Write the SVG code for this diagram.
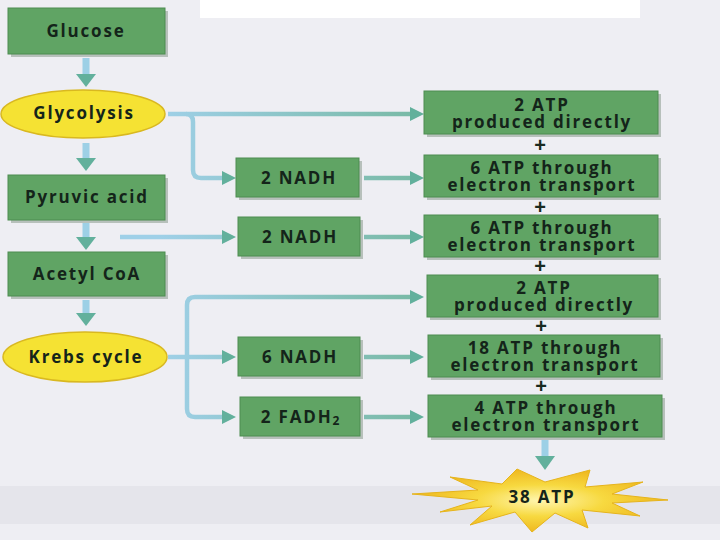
<svg xmlns="http://www.w3.org/2000/svg" width="720" height="540" viewBox="0 0 720 540">
<defs>
<style>
.box{fill:#60a464;stroke:#4d8c51;stroke-width:1}
.sh{fill:#8a9a8c;opacity:0.55}
.ell{fill:#f5e233;stroke:#d9b820;stroke-width:1.5}
.t{font-family:"Open Sans",Lato,"Liberation Sans",sans-serif;font-weight:bold;font-size:17px;fill:#14241a;text-anchor:middle;letter-spacing:1.8px}
.plus{font-family:"Liberation Sans",sans-serif;font-weight:bold;font-size:20px;fill:#1a2a20;text-anchor:middle}
.ln{fill:none;stroke:url(#g);stroke-width:4.5;stroke-linecap:butt}
.lv{fill:none;stroke:#9dd0e6;stroke-width:7}
.hd{fill:#62b09c}
</style>
<linearGradient id="g" gradientUnits="userSpaceOnUse" x1="160" y1="0" x2="420" y2="0">
<stop offset="0" stop-color="#9fd0e8"/><stop offset="1" stop-color="#78b9a4"/>
</linearGradient>
<radialGradient id="star" cx="0.5" cy="0.5" r="0.5">
<stop offset="0" stop-color="#fff6b0"/><stop offset="0.5" stop-color="#f7d940"/><stop offset="1" stop-color="#efb820"/>
</radialGradient>
</defs>
<rect width="720" height="540" fill="#eeeef3"/>
<rect x="200" y="0" width="440" height="18" fill="#ffffff"/>
<rect x="0" y="486" width="720" height="38" fill="#e5e5eb"/>

<g id="connectors">
<line class="lv" x1="86" y1="58" x2="86" y2="76"/><polygon class="hd" points="76,74 96,74 86,87"/>
<line class="lv" x1="86" y1="143" x2="86" y2="160"/><polygon class="hd" points="76,158 96,158 86,171"/>
<line class="lv" x1="86" y1="223" x2="86" y2="239"/><polygon class="hd" points="76,237 96,237 86,250"/>
<line class="lv" x1="86" y1="300" x2="86" y2="315"/><polygon class="hd" points="76,313 96,313 86,326"/>
<line class="lv" x1="545" y1="440" x2="545" y2="458"/><polygon class="hd" points="535,456 555,456 545,470"/>
<path class="ln" d="M168,114 H412"/><polygon class="hd" points="410,107 424,114 410,121"/>
<path class="ln" d="M186,114 Q193,114 193,122 V170 Q193,178 201,178 H224"/><polygon class="hd" points="222,171 236,178 222,185"/>
<path class="ln" d="M120,237 H224"/><polygon class="hd" points="222,230 236,237 222,244"/>
<path class="ln" d="M364,178 H412"/><polygon class="hd" points="410,171 424,178 410,185"/>
<path class="ln" d="M364,237 H412"/><polygon class="hd" points="410,230 424,237 410,244"/>
<path class="ln" d="M364,357 H412"/><polygon class="hd" points="410,350 424,357 410,364"/>
<path class="ln" d="M364,417 H412"/><polygon class="hd" points="410,410 424,417 410,424"/>
<path class="ln" d="M412,297 H195 Q187,297 187,305 V409 Q187,417 195,417 H224"/>
<polygon class="hd" points="410,290 424,297 410,304"/>
<polygon class="hd" points="222,410 236,417 222,424"/>
<path class="ln" d="M168,357 H224"/><polygon class="hd" points="222,350 236,357 222,364"/>
</g>

<g id="glucose"><rect class="sh" x="11" y="11" width="157" height="46"/><rect class="box" x="8" y="8" width="157" height="46"/><text class="t" x="86" y="37">Glucose</text></g>
<g id="glycolysis"><ellipse class="ell" cx="83" cy="114" rx="82" ry="24"/><text class="t" x="84" y="119">Glycolysis</text></g>
<g id="pyruvic"><rect class="sh" x="11" y="178" width="157" height="45"/><rect class="box" x="8" y="175" width="157" height="45"/><text class="t" x="87" y="203">Pyruvic acid</text></g>
<g id="acetyl"><rect class="sh" x="11" y="255" width="157" height="44"/><rect class="box" x="8" y="252" width="157" height="44"/><text class="t" x="87" y="280">Acetyl CoA</text></g>
<g id="krebs"><ellipse class="ell" cx="85" cy="357" rx="82" ry="25"/><text class="t" x="86" y="363">Krebs cycle</text></g>

<g id="nadh1"><rect class="sh" x="239" y="161" width="123" height="39"/><rect class="box" x="236" y="158" width="123" height="39"/><text class="t" x="299" y="184">2 NADH</text></g>
<g id="nadh2"><rect class="sh" x="241" y="220" width="122" height="39"/><rect class="box" x="238" y="217" width="122" height="39"/><text class="t" x="300" y="243">2 NADH</text></g>
<g id="nadh3"><rect class="sh" x="241" y="340" width="122" height="39"/><rect class="box" x="238" y="337" width="122" height="39"/><text class="t" x="300" y="363">6 NADH</text></g>
<g id="fadh"><rect class="sh" x="243" y="400" width="120" height="39"/><rect class="box" x="240" y="397" width="120" height="39"/><text class="t" x="301" y="423">2 FADH<tspan font-size="12" dy="2">2</tspan></text></g>

<g id="atp1"><rect class="sh" x="427" y="94" width="234" height="43"/><rect class="box" x="424" y="91" width="234" height="43"/><text class="t"><tspan x="542" y="111">2 ATP</tspan><tspan x="542" y="128">produced directly</tspan></text></g>
<text class="plus" x="540" y="152">+</text>
<g id="atp2"><rect class="sh" x="427" y="158" width="234" height="42"/><rect class="box" x="424" y="155" width="234" height="42"/><text class="t"><tspan x="542" y="174">6 ATP through</tspan><tspan x="542" y="191">electron transport</tspan></text></g>
<text class="plus" x="540" y="214">+</text>
<g id="atp3"><rect class="sh" x="427" y="218" width="234" height="42"/><rect class="box" x="424" y="215" width="234" height="42"/><text class="t"><tspan x="542" y="234">6 ATP through</tspan><tspan x="542" y="251">electron transport</tspan></text></g>
<text class="plus" x="540" y="273">+</text>
<g id="atp4"><rect class="sh" x="430" y="278" width="231" height="42"/><rect class="box" x="427" y="275" width="231" height="42"/><text class="t"><tspan x="544" y="294">2 ATP</tspan><tspan x="544" y="311">produced directly</tspan></text></g>
<text class="plus" x="541" y="333">+</text>
<g id="atp5"><rect class="sh" x="431" y="338" width="232" height="42"/><rect class="box" x="428" y="335" width="232" height="42"/><text class="t"><tspan x="545" y="354">18 ATP through</tspan><tspan x="545" y="371">electron transport</tspan></text></g>
<text class="plus" x="541" y="393">+</text>
<g id="atp6"><rect class="sh" x="431" y="398" width="234" height="42"/><rect class="box" x="428" y="395" width="234" height="42"/><text class="t"><tspan x="546" y="414">4 ATP through</tspan><tspan x="546" y="431">electron transport</tspan></text></g>

<g id="total">
<polygon fill="url(#star)" stroke="#e6b41c" stroke-width="1" points="412,494 478,490 450,477 502,484 517,469 545,482 590,470 585,487 643,482 612,494 668,500 612,503 640,516 582,510 588,528 555,513 532,532 515,512 470,525 492,506 440,512 478,500"/>
<text class="t" x="542" y="503">38 ATP</text>
</g>
</svg>
